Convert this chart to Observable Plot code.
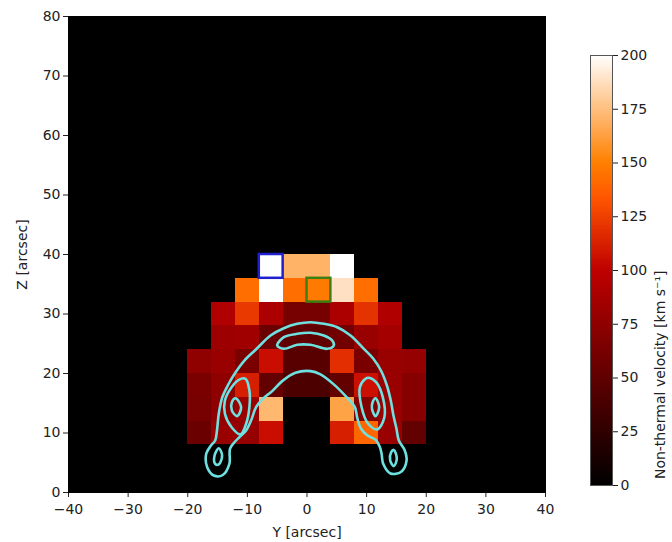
<!DOCTYPE html>
<html>
<head>
<meta charset="utf-8">
<script src="https://cdn.jsdelivr.net/npm/d3@7"></script>
<script src="https://cdn.jsdelivr.net/npm/@observablehq/plot@0.6"></script>
<style>
  html, body { margin: 0; padding: 0; background: #fff; }
  #wrap { position: relative; width: 672px; height: 542px; font-family: "DejaVu Sans", sans-serif; }
  #main, #cbar { position: absolute; top: 0; }
  #main { left: 0; }
  #cbar { left: 590px; }
</style>
</head>
<body>
<div id="wrap"><div id="main"></div><div id="cbar"></div></div>
<script>
// ---- Data ----
// Pixel grid: left edges of columns (Y, arcsec) and bottom edges of rows (Z, arcsec), 4" cells
const yCols = [-20, -16, -12, -8, -4, 0, 4, 8, 12, 16];
const zRows = [36, 32, 28, 24, 20, 16, 12, 8];
const cellSize = 4;
// Non-thermal velocity [km/s], one row per zRows entry (null = no data)
const row36 = [null, null, null, 200, 170, 170, 200, null, null, null];
const row32 = [null, null, 143, 200, 143, 148, 188, 143, null, null];
const row28 = [null, 92, 122, 90, 62, 62, 90, 120, 92, null];
const row24 = [null, 82, 84, 56, 50, 50, 60, 80, 86, null];
const row20 = [75, 80, 64, 105, 46, 46, 118, 64, 80, 78];
const row16 = [64, 75, 112, 52, 40, 40, 52, 106, 80, 70];
const row12 = [62, 75, 80, 172, null, null, 164, 68, 80, 70];
const row8  = [56, 80, 78, 105, null, null, 112, 140, 80, 52];
const velocityRows = [row36, row32, row28, row24, row20, row16, row12, row8];

// Highlighted pixels (lower-left corner Y, Z)
const bluePixel = [-8, 36];
const greenPixel = [0, 32];

// Contour lines (Y, Z)
const contourOuter = [
  [-15.63, 2.86], [-16.74, 4.25], [-16.90, 6.50], [-16.10, 7.90], [-15.40, 8.74],
  [-15.10, 10.42], [-14.80, 13.23], [-14.20, 16.02], [-13.2, 18.15], [-12.0, 20.17],
  [-10.5, 22.18], [-8.45, 24.15], [-6.12, 26.39], [-3.89, 27.61], [-1.64, 28.35],
  [0.59, 28.62], [2.82, 28.35], [5.07, 27.78], [7.30, 26.39], [9.53, 24.15],
  [11.1, 22.52], [12.4, 20.50], [13.4, 17.98], [14.05, 15.46], [14.5, 12.94],
  [15.0, 10.76], [15.4, 8.74], [16.40, 7.06], [16.70, 5.38], [15.80, 3.50],
  [14.00, 3.20], [12.78, 4.82], [12.51, 6.50], [12.23, 7.61], [11.56, 8.81],
  [10.05, 9.65], [9.04, 10.76], [8.45, 12.44], [8.03, 14.34], [6.64, 16.02],
  [4.49, 18.17], [2.26, 19.85], [0.59, 20.40], [-1.93, 20.12], [-4.16, 18.72],
  [-5.84, 17.04], [-7.51, 15.65], [-8.54, 14.34], [-9.38, 12.10], [-10.21, 10.42],
  [-11.34, 9.29], [-11.89, 8.74], [-12.9, 7.39], [-13.02, 4.82], [-14.12, 2.94]
];
const contourTopCore = [
  [-5.0, 24.71], [-3.89, 26.10], [-1.64, 26.67], [0.59, 26.84], [2.82, 26.39],
  [4.23, 25.55], [4.49, 24.71], [3.39, 24.15], [0.59, 24.82], [-1.64, 24.82], [-3.89, 24.15]
];
const contourLeftMid = [
  [-10.31, 19.11], [-9.66, 17.14], [-9.66, 14.34], [-10.21, 11.55], [-11.15, 9.77],
  [-12.65, 10.97], [-13.77, 13.23], [-13.77, 15.46], [-12.65, 17.70], [-11.44, 18.94]
];
const contourLeftCore = [
  [-11.99, 15.85], [-11.05, 14.34], [-11.71, 12.84], [-12.60, 13.78], [-12.60, 15.18]
];
const contourLeftFoot = [
  [-14.79, 7.44], [-14.24, 6.22], [-14.79, 4.72], [-15.40, 4.82], [-15.50, 6.22]
];
const contourRightMid = [
  [9.81, 19.11], [8.87, 17.70], [9.16, 14.34], [10.26, 11.55], [11.77, 10.61],
  [12.98, 12.66], [12.71, 16.02], [11.59, 18.54], [10.36, 19.28]
];
const contourRightCore = [
  [11.49, 15.85], [12.10, 14.34], [11.49, 12.84], [10.90, 14.07], [11.00, 15.18]
];
const contourRightFoot = [
  [14.56, 7.16], [15.06, 5.66], [14.56, 4.44], [13.95, 5.38], [14.12, 6.77]
];

const xTicks = [-40, -30, -20, -10, 0, 10, 20, 30, 40];
const yTicks = [0, 10, 20, 30, 40, 50, 60, 70, 80];
const cbarTicks = [0, 25, 50, 75, 100, 125, 150, 175, 200];
const velocityDomain = [0, 200];

// ---- Build tables ----
const cells = [];
velocityRows.forEach((row, i) => row.forEach((v, j) => {
  if (v != null) cells.push({y0: yCols[j], z0: zRows[i], v});
}));
const contours = [];
[contourOuter, contourTopCore, contourLeftMid, contourLeftCore, contourLeftFoot,
 contourRightMid, contourRightCore, contourRightFoot].forEach((c, k) =>
  c.forEach(([y, z]) => contours.push({k, y, z})));
const boxes = [
  {y0: bluePixel[0], z0: bluePixel[1], c: "#1f1fd0"},
  {y0: greenPixel[0], z0: greenPixel[1], c: "#3d7f12"}
];

// matplotlib gist_heat
function gistHeat(t) {
  const cl = x => Math.max(0, Math.min(1, x));
  const r = cl(1.5 * t), g = cl(2 * t - 1), b = cl(4 * t - 3);
  return `rgb(${Math.round(r * 255)},${Math.round(g * 255)},${Math.round(b * 255)})`;
}
const colorOpts = {type: "linear", domain: velocityDomain, interpolate: gistHeat};
const fmt = d => d < 0 ? "\u2212" + Math.abs(d) : String(d);
const FS = 14;

const main = Plot.plot({
  width: 672, height: 542,
  marginLeft: 68, marginRight: 127, marginTop: 16, marginBottom: 50,
  style: {fontFamily: "DejaVu Sans, sans-serif", fontSize: FS + "px", color: "#222", background: "transparent"},
  x: {domain: [-40, 40]},
  y: {domain: [0, 80]},
  color: colorOpts,
  marks: [
    Plot.frame({fill: "black"}),
    Plot.rect(cells, {x1: "y0", x2: d => d.y0 + cellSize, y1: "z0", y2: d => d.z0 + cellSize, fill: "v", shapeRendering: "crispEdges"}),
    Plot.line(contours, {x: "y", y: "z", z: "k", curve: "catmull-rom-closed", stroke: "#6ee0e0", strokeWidth: 2.6}),
    Plot.rect(boxes, {x1: "y0", x2: d => d.y0 + cellSize, y1: "z0", y2: d => d.z0 + cellSize, fill: "none", stroke: "c", strokeWidth: 2.5}),
    Plot.axisX({ticks: xTicks, tickFormat: fmt, tickSize: 5, tickPadding: 7, label: "Y [arcsec]", labelAnchor: "center", labelArrow: "none", labelOffset: 44, fontSize: FS}),
    Plot.axisY({ticks: yTicks, tickFormat: fmt, tickSize: 5, tickPadding: 3, label: "Z [arcsec]", labelAnchor: "center", labelArrow: "none", labelOffset: 51, fontSize: FS}),
    Plot.frame({stroke: "black"})
  ]
});
document.getElementById("main").appendChild(main);

const cbarValues = d3.range(0, 200, 1);
const cbar = Plot.plot({
  width: 82, height: 542,
  marginLeft: 0, marginRight: 60, marginTop: 55, marginBottom: 57,
  style: {fontFamily: "DejaVu Sans, sans-serif", fontSize: FS + "px", color: "#222", background: "transparent", overflow: "visible"},
  x: {domain: [0, 1], axis: null},
  y: {domain: velocityDomain},
  color: colorOpts,
  marks: [
    Plot.rect(cbarValues, {x1: 0, x2: 1, y1: d => d, y2: d => Math.min(200, d + 1.6), fill: d => d + 0.5, shapeRendering: "crispEdges"}),
    Plot.frame({stroke: "#555"}),
    Plot.axisY({anchor: "right", ticks: cbarTicks, tickSize: 5, tickPadding: 3, label: null, fontSize: FS}),
    Plot.text(["Non-thermal velocity [km s\u207B\u00B9]"], {frameAnchor: "right", rotate: -90, dx: 48, fontSize: FS, fill: "#222"})
  ]
});
document.getElementById("cbar").appendChild(cbar);
</script>
</body>
</html>
